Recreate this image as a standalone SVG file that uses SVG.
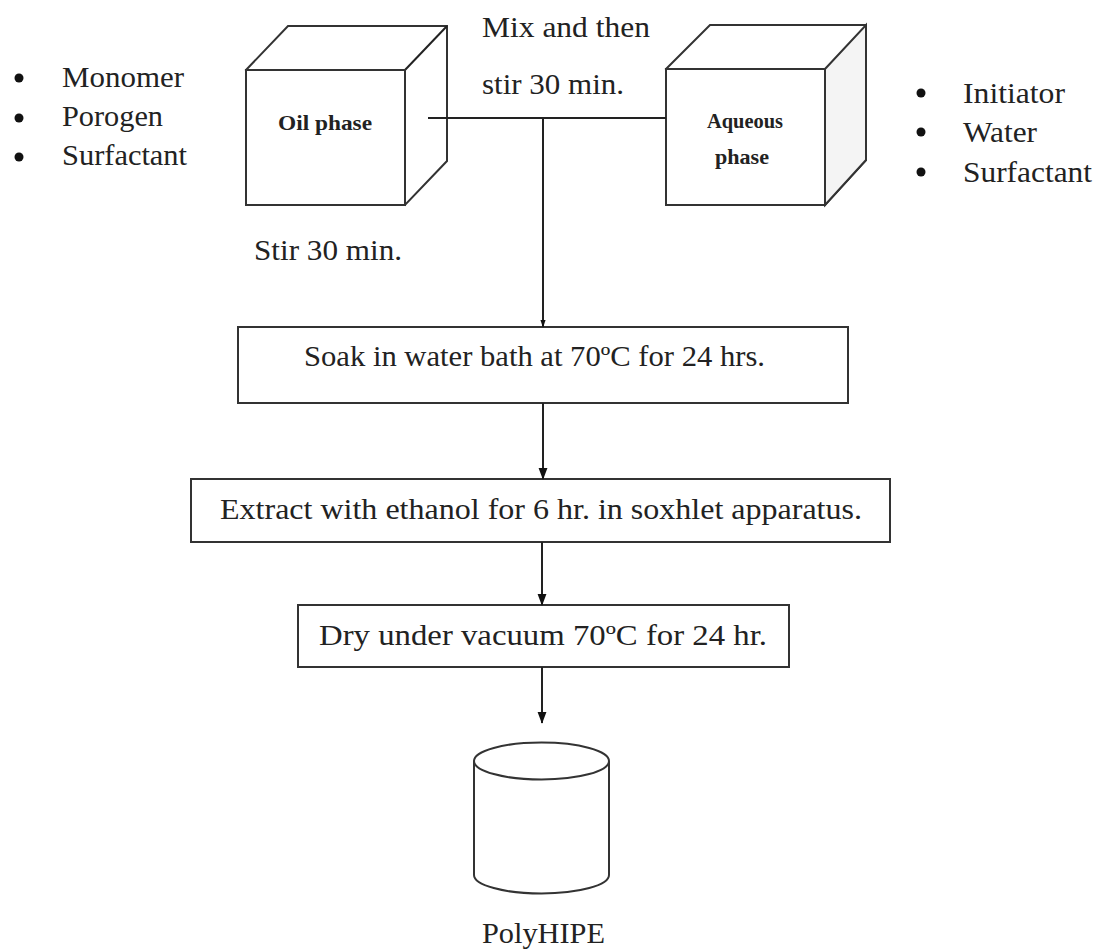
<svg xmlns="http://www.w3.org/2000/svg" width="1097" height="950" viewBox="0 0 1097 950">
<style>
.ln{stroke:#222;stroke-width:2;fill:none}
.bx{stroke:#333;stroke-width:2;fill:#fff}
.t{font-family:"Liberation Serif","Times New Roman",serif;font-size:29px;fill:#222}
.b{font-family:"Liberation Serif","Times New Roman",serif;font-size:21px;font-weight:bold;fill:#222}
.dot{fill:#111}
</style>
<defs>
<marker id="ah" markerWidth="12" markerHeight="16" refX="6" refY="15" orient="auto" markerUnits="userSpaceOnUse" viewBox="0 0 12 16">
<path d="M0,0 L12,0 L6,16 Z" fill="#111" transform="rotate(-90 6 8) translate(0 0)"/>
</marker>
<marker id="ah2" markerWidth="12" markerHeight="16" refX="15" refY="6" orient="auto" markerUnits="userSpaceOnUse" viewBox="0 0 16 12">
<path d="M0,0 L16,6 L0,12 Z" fill="#111"/>
</marker>
<marker id="ah3" markerWidth="8" markerHeight="12" refX="11" refY="4" orient="auto" markerUnits="userSpaceOnUse" viewBox="0 0 12 8">
<path d="M0,0 L12,4 L0,8 Z" fill="#111"/>
</marker>
</defs>

<g id="oil-ingredients">
<circle class="dot" cx="19" cy="78" r="4.5"/>
<circle class="dot" cx="19" cy="118" r="4.5"/>
<circle class="dot" cx="19" cy="157" r="4.5"/>
<text class="t" x="62" y="87" textLength="122" lengthAdjust="spacingAndGlyphs">Monomer</text>
<text class="t" x="62" y="126" textLength="101" lengthAdjust="spacingAndGlyphs">Porogen</text>
<text class="t" x="62" y="165" textLength="125" lengthAdjust="spacingAndGlyphs">Surfactant</text>
</g>

<g id="aqueous-ingredients">
<circle class="dot" cx="921" cy="93" r="4.5"/>
<circle class="dot" cx="921" cy="132" r="4.5"/>
<circle class="dot" cx="921" cy="172" r="4.5"/>
<text class="t" x="963" y="103" textLength="102" lengthAdjust="spacingAndGlyphs">Initiator</text>
<text class="t" x="963" y="142" textLength="74" lengthAdjust="spacingAndGlyphs">Water</text>
<text class="t" x="963" y="182" textLength="129" lengthAdjust="spacingAndGlyphs">Surfactant</text>
</g>

<g id="oil-phase">
<path class="bx" d="M246,70 L288,26 L447,26 L447,161 L405,205 Z"/>
<path class="ln" d="M405,70 L447,26"/>
<rect class="bx" x="246" y="70" width="159" height="135"/>
<text class="b" x="278" y="130" textLength="94" lengthAdjust="spacingAndGlyphs">Oil phase</text>
</g>

<g id="aqueous-phase">
<path class="bx" d="M666,69 L710,25 L866,25 L866,160 L825,205 Z"/>
<path d="M825,69 L866,25 L866,160 L825,205 Z" fill="#f4f4f4" stroke="#333" stroke-width="2"/>
<rect class="bx" x="666" y="69" width="159" height="136"/>
<text class="b" x="707" y="128" textLength="76" lengthAdjust="spacingAndGlyphs">Aqueous</text>
<text class="b" x="715" y="164" textLength="54" lengthAdjust="spacingAndGlyphs">phase</text>
</g>

<g id="labels">
<text class="t" x="482" y="37" textLength="168" lengthAdjust="spacingAndGlyphs">Mix and then</text>
<text class="t" x="482" y="94" textLength="142" lengthAdjust="spacingAndGlyphs">stir 30 min.</text>
<text class="t" x="254" y="260" textLength="148" lengthAdjust="spacingAndGlyphs">Stir 30 min.</text>
</g>

<g id="soak">
<rect class="bx" x="238" y="327" width="610" height="76"/>
<text class="t" x="304" y="366" textLength="461" lengthAdjust="spacingAndGlyphs">Soak in water bath at 70ºC for 24 hrs.</text>
</g>

<g id="extract">
<rect class="bx" x="191" y="479" width="699" height="63"/>
<text class="t" x="220" y="519" textLength="642" lengthAdjust="spacingAndGlyphs">Extract with ethanol for 6 hr. in soxhlet apparatus.</text>
</g>

<g id="dry">
<rect class="bx" x="298" y="605" width="491" height="62"/>
<text class="t" x="319" y="645" textLength="448" lengthAdjust="spacingAndGlyphs">Dry under vacuum 70ºC for 24 hr.</text>
</g>

<g id="polyhipe">
<path class="bx" d="M474,761 L474,875 A67.5,18.5 0 0 0 609,875 L609,761"/>
<ellipse class="bx" cx="541.5" cy="761" rx="67.5" ry="18.5"/>
<text class="t" x="482" y="943" textLength="123" lengthAdjust="spacingAndGlyphs">PolyHIPE</text>
</g>

<g id="connectors">
<path class="ln" d="M428,118 L666,118"/>
<path class="ln" d="M543,118 L543,327" marker-end="url(#ah3)"/>
<path class="ln" d="M543,403 L543,479" marker-end="url(#ah2)"/>
<path class="ln" d="M542,542 L542,605" marker-end="url(#ah2)"/>
<path class="ln" d="M542,667 L542,723" marker-end="url(#ah2)"/>
</g>
</svg>
